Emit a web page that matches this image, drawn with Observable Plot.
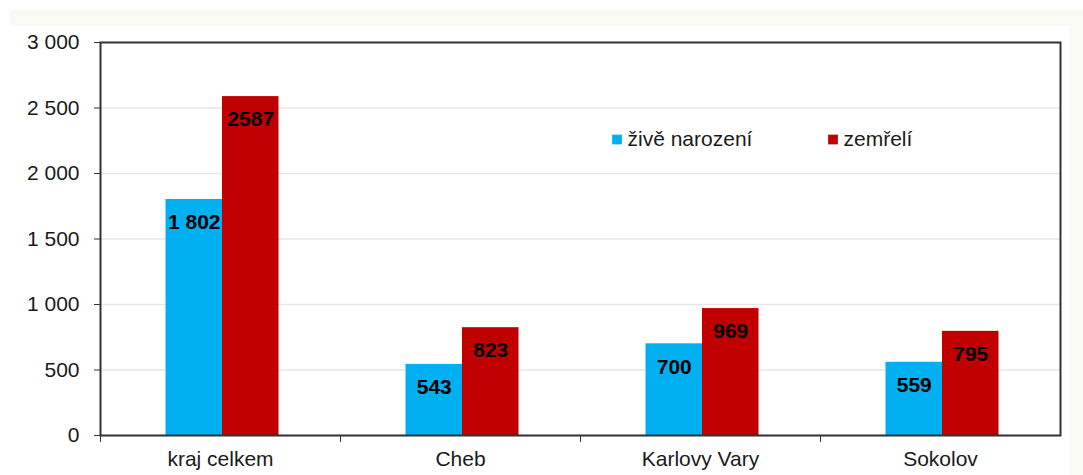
<!DOCTYPE html>
<html>
<head>
<meta charset="utf-8">
<script src="https://cdn.jsdelivr.net/npm/d3@7"></script>
<script src="https://cdn.jsdelivr.net/npm/@observablehq/plot@0.6"></script>
<style>
  html, body { margin: 0; padding: 0; background: #fff; }
  #chart {
    width: 1083px; height: 475px; position: relative;
    background:
      linear-gradient(to right, transparent 1070px, #fafaf5 1070px) 0 10px / 1083px 465px no-repeat,
      linear-gradient(to bottom, #fafaf5, #fafaf5) 10px 10px / 1073px 16px no-repeat,
      #fff;
  }
  #chart svg { background: transparent !important; display: block; }
</style>
</head>
<body>
<div id="chart"></div>
<script>
const categories = ["kraj celkem", "Cheb", "Karlovy Vary", "Sokolov"];
const seriesNames = ["živě narození", "zemřelí"];
const births = [1802, 543, 700, 559];
const deaths = [2587, 823, 969, 795];
const yTicks = [0, 500, 1000, 1500, 2000, 2500, 3000];

const colors = ["#00B0F0", "#C00000"];
const W = 1083, H = 475;
const mL = 100, mR = 23, mT = 42, mB = 40;
const band = (W - mL - mR) / categories.length;
const barW = 56.5;
const shift = 2;
const font = "'Liberation Sans', Arial, sans-serif";
const fs = 21;

const rows = categories.map((c, i) => ({category: c, births: births[i], deaths: deaths[i]}));
const fmtSpace = d => d3.format(",")(d).replace(/,/g, " ");

// legend item offsets (pixels from the frame's top-left corner)
const legendSquareDx = [516.5, 732.5];
const legendTextDx = [527, 743];
const legendDy = 97;

const legendMarks = seriesNames.flatMap((name, i) => [
  Plot.dot([name], {frameAnchor: "top-left", dx: legendSquareDx[i], dy: legendDy,
    symbol: "square", r: 5.5, fill: colors[i], stroke: null}),
  Plot.text([name], {frameAnchor: "top-left", dx: legendTextDx[i], dy: legendDy,
    text: d => d, textAnchor: "start", lineAnchor: "middle", fontSize: fs, fill: "#1a1a1a"})
]);

const chart = Plot.plot({
  width: W,
  height: H,
  marginLeft: mL,
  marginRight: mR,
  marginTop: mT,
  marginBottom: mB,
  style: {fontFamily: font, fontSize: fs + "px", color: "#1a1a1a", background: "transparent"},
  x: {domain: categories, padding: 0},
  y: {domain: [0, 3000]},
  marks: [
    Plot.gridY(yTicks, {stroke: "#e6e6e6", strokeOpacity: 1, strokeWidth: 1.5}),
    Plot.barY(rows, {x: "category", y: "births", fill: colors[0],
      insetLeft: band / 2 - barW + shift, insetRight: band / 2 - shift}),
    Plot.barY(rows, {x: "category", y: "deaths", fill: colors[1],
      insetLeft: band / 2 + shift, insetRight: band / 2 - barW - shift}),
    Plot.text(rows, {x: "category", y: "births", text: d => fmtSpace(d.births),
      dx: -barW / 2 + shift, dy: 23, fontWeight: "bold", fontSize: fs, fill: "#000"}),
    Plot.text(rows, {x: "category", y: "deaths", text: d => String(d.deaths),
      dx: barW / 2 + shift, dy: 23, fontWeight: "bold", fontSize: fs, fill: "#000"}),
    Plot.axisY(yTicks, {tickFormat: fmtSpace, tickSize: 6, tickPadding: 15,
      stroke: "#333", fontSize: fs, fill: "#1a1a1a"}),
    Plot.axisX({tickSize: 0, tickPadding: 16, fontSize: fs, fill: "#1a1a1a", label: null}),
    Plot.axisX({tickSize: 7, text: null, dx: -band / 2, stroke: "#333", label: null}),
    Plot.frame({stroke: "#333", strokeWidth: 2}),
    ...legendMarks
  ]
});
document.getElementById("chart").appendChild(chart);
</script>
</body>
</html>
